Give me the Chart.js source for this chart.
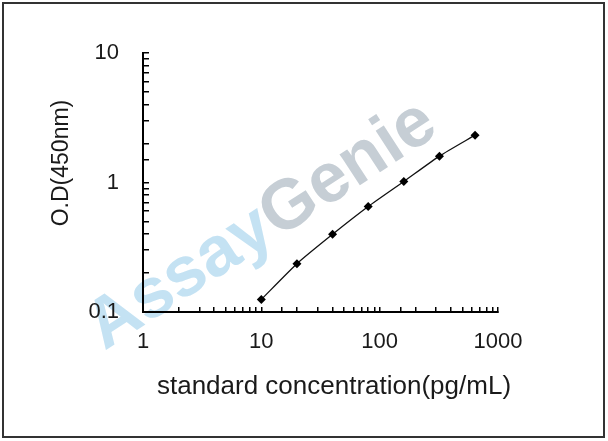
<!DOCTYPE html>
<html lang="en">
<head>
<meta charset="UTF-8">
<title>Standard curve</title>
<script src="https://cdn.jsdelivr.net/npm/chart.js"></script>
<style>
  body { margin: 0; background: #fff; }
  #wrap { width: 608px; height: 441px; }
</style>
</head>
<body>
<div id="wrap"><canvas id="curve" width="608" height="441"></canvas></div>
<script>
// standard points
const concentrations = [10, 20, 40, 80, 160, 320, 640];
const odValues = [0.125, 0.236, 0.398, 0.652, 1.018, 1.598, 2.32];
const xTickLabels = ['1', '10', '100', '1000'];
const yTickLabels = ['0.1', '1', '10'];
const xTitle = 'standard concentration(pg/mL)';
const yTitle = 'O.D(450nm)';
const watermarkParts = ['Assay', 'Genie'];

const FONT = '"Liberation Sans", Arial, sans-serif';

// only label the decades, minor ticks stay blank
function decadeLabel(labels, min) {
  return function (value) {
    const k = Math.log10(value) - Math.log10(min);
    const r = Math.round(k);
    if (Math.abs(k - r) < 1e-6 && labels[r] !== undefined) return labels[r];
    return '';
  };
}

const frameAndTitles = {
  id: 'frameAndTitles',
  beforeDraw(chart) {
    const ctx = chart.ctx;
    ctx.save();
    ctx.fillStyle = '#fff';
    ctx.fillRect(0, 0, chart.width, chart.height);
    // watermark
    ctx.font = 'bold 70px ' + FONT;
    const wA = ctx.measureText(watermarkParts[0]).width;
    const wAll = ctx.measureText(watermarkParts.join('')).width;
    ctx.translate(259, 221);
    ctx.rotate(-33 * Math.PI / 180);
    ctx.textBaseline = 'alphabetic';
    ctx.textAlign = 'left';
    ctx.fillStyle = '#c4e2f3';
    ctx.fillText(watermarkParts[0], -wAll / 2, 25);
    ctx.fillStyle = '#c6ced5';
    ctx.fillText(watermarkParts[1], -wAll / 2 + wA, 25);
    ctx.restore();
  },
  afterDraw(chart) {
    const ctx = chart.ctx;
    ctx.save();
    ctx.fillStyle = '#1a1a1a';
    ctx.textAlign = 'center';
    ctx.textBaseline = 'alphabetic';
    ctx.font = '26px ' + FONT;
    ctx.fillText(xTitle, 334, 394);
    ctx.translate(68, 163);
    ctx.rotate(-Math.PI / 2);
    ctx.font = '23px ' + FONT;
    ctx.fillText(yTitle, 0, 0);
    ctx.restore();
    // outer frame
    ctx.save();
    ctx.strokeStyle = '#333';
    ctx.lineWidth = 2;
    ctx.strokeRect(3, 3, 601, 434);
    ctx.restore();
  }
};

const ctx = document.getElementById('curve').getContext('2d');
new Chart(ctx, {
  type: 'line',
  data: {
    datasets: [{
      data: concentrations.map((c, i) => ({ x: c, y: odValues[i] })),
      borderColor: '#111',
      borderWidth: 1.3,
      tension: 0.2,
      pointStyle: 'rectRot',
      pointRadius: 4.5,
      pointBackgroundColor: '#000',
      pointBorderColor: '#000',
      pointBorderWidth: 0,
      fill: false
    }]
  },
  options: {
    responsive: false,
    animation: false,
    layout: { padding: { top: 53, right: 110, bottom: 0, left: 0 } },
    scales: {
      x: {
        type: 'logarithmic',
        position: 'bottom',
        min: 1,
        max: 1000,
        afterFit(scale) { scale.height = 129; },
        border: { display: true, color: '#000', width: 2 },
        grid: { drawOnChartArea: false, drawTicks: true, tickLength: -5, color: '#000', lineWidth: 1.5 },
        ticks: {
          autoSkip: false,
          maxRotation: 0,
          padding: 22,
          color: '#1a1a1a',
          font: { family: FONT, size: 22 },
          callback: decadeLabel(xTickLabels, 1)
        }
      },
      y: {
        type: 'logarithmic',
        min: 0.1,
        max: 10,
        afterFit(scale) { scale.width = 143; },
        border: { display: true, color: '#000', width: 2 },
        grid: { drawOnChartArea: false, drawTicks: true, tickLength: -6, color: '#000', lineWidth: 1.5 },
        ticks: {
          autoSkip: false,
          padding: 30,
          color: '#1a1a1a',
          font: { family: FONT, size: 22 },
          callback: decadeLabel(yTickLabels, 0.1)
        }
      }
    },
    plugins: {
      legend: { display: false },
      tooltip: { enabled: false }
    }
  },
  plugins: [frameAndTitles]
});
</script>
</body>
</html>
